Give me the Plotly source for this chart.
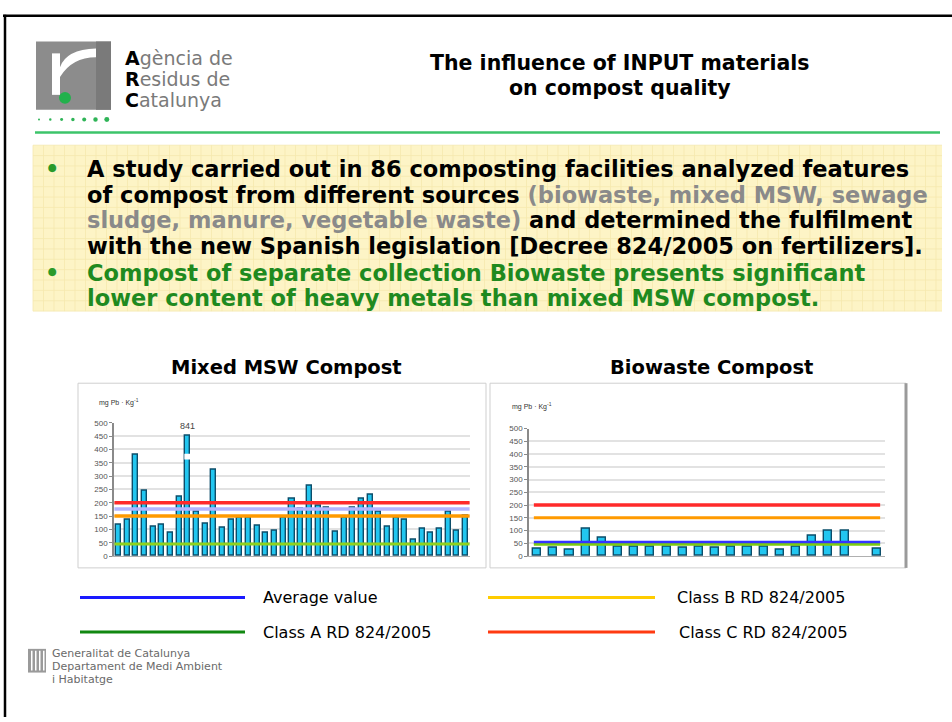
import plotly.graph_objects as go

# ---------------- DATA ----------------
msw_values = [117, 138, 379, 246, 111, 116, 89, 224, 841, 167, 121, 324, 108, 135,
              145, 145, 112, 86, 94, 145, 215, 176, 264, 188, 180, 92, 145, 180,
              215, 230, 166, 111, 145, 138, 60, 103, 86, 103, 166, 94, 150]
bio_values = [30, 33, 26, 107, 72, 36, 36, 36, 36, 32, 36, 32, 36, 37, 36, 26, 35,
              82, 98, 98, None, 30]
msw_average = 176
bio_average = 53
class_a = 45
class_b = 150
class_c = 200
y_ticks = [0, 50, 100, 150, 200, 250, 300, 350, 400, 450, 500]
break_label = "841"
chart_titles = ["Mixed MSW Compost", "Biowaste Compost"]
legend_labels = ["Average value", "Class B RD 824/2005", "Class A RD 824/2005", "Class C RD 824/2005"]

W, H = 952, 722
def px(x): return x / W
def py(y): return 1 - y / H

CAP = 452  # display height of the broken bar

fig = go.Figure()

msw_x = list(range(len(msw_values)))
bio_x = list(range(len(bio_values)))
msw_disp = [min(v, CAP) for v in msw_values]

bar_fill = "#22c6f0"
bar_edge = "#0c4d6a"
fig.add_trace(go.Bar(x=msw_x, y=msw_disp, width=0.58, marker=dict(color=bar_fill, line=dict(color=bar_edge, width=1.4)),
                     xaxis="x", yaxis="y", showlegend=False))
fig.add_trace(go.Bar(x=bio_x, y=bio_values, width=0.5, marker=dict(color=bar_fill, line=dict(color=bar_edge, width=1.4)),
                     xaxis="x2", yaxis="y2", showlegend=False))

def hline(xa, ya, x0, x1, yv, color, w):
    fig.add_trace(go.Scatter(x=[x0, x1], y=[yv, yv], mode="lines", line=dict(color=color, width=w),
                             xaxis=xa, yaxis=ya, showlegend=False, hoverinfo="skip"))

n1 = len(msw_values) - 1
hline("x", "y", -0.45, n1 + 0.45, class_c, "#ff2a2a", 3.5)
hline("x", "y", -0.45, n1 + 0.45, msw_average, "#b4b4ff", 3.5)
hline("x", "y", -0.45, n1 + 0.45, class_b, "#ff9a00", 3.5)
hline("x", "y", -0.45, n1 + 0.45, class_a, "#8fd21e", 3)

n2 = len(bio_values) - 1
hline("x2", "y2", -0.2, n2 + 0.2, class_c, "#ff2a2a", 3.5)
hline("x2", "y2", -0.2, n2 + 0.2, class_b, "#ff9a00", 3)
hline("x2", "y2", -0.2, n2 + 0.2, bio_average, "#3434ff", 3.5)
hline("x2", "y2", -0.2, n2 + 0.2, class_a, "#7ccc10", 2.5)

shapes = []
annotations = []

# broken bar gap
bi = msw_values.index(max(msw_values))
shapes.append(dict(type="rect", xref="x", yref="y", x0=bi - 0.4, x1=bi + 0.4, y0=362, y1=384,
                   fillcolor="white", line=dict(width=0), layer="above"))
annotations.append(dict(x=bi, y=CAP + 8, xref="x", yref="y", text=break_label, showarrow=False,
                        yanchor="bottom", font=dict(size=9, color="#444", family="Liberation Sans")))

axis_common = dict(showgrid=False, zeroline=False, showticklabels=False, showline=True,
                   linecolor="#b0b0b0", linewidth=1, fixedrange=True)
yaxis_common = dict(range=[0, 500], tickvals=y_ticks, showgrid=True, gridcolor="#e2e2e2", gridwidth=2,
                    zeroline=False, showline=True, linecolor="#8a8a8a", linewidth=1.5,
                    ticks="outside", ticklen=3, tickcolor="#8a8a8a",
                    tickfont=dict(size=8, color="#555", family="Liberation Sans"), fixedrange=True)

fig.update_layout(
    width=W, height=H, margin=dict(l=0, r=0, t=0, b=0),
    paper_bgcolor="white", plot_bgcolor="white", barmode="overlay", bargap=0,
    xaxis=dict(domain=[px(114), px(470)], range=[-0.5, len(msw_values) - 0.5], anchor="y", **axis_common),
    yaxis=dict(domain=[py(559), py(424)], anchor="x", **yaxis_common),
    xaxis2=dict(domain=[px(529), px(885)], range=[-0.5, len(bio_values) - 0.5], anchor="y2", **axis_common),
    yaxis2=dict(domain=[py(559), py(430)], anchor="x2", **yaxis_common),
)

DJ = "DejaVu Sans"

def text(x, y, s, size, color="#000", bold=False, anchor="left", family=DJ):
    if bold:
        s = "<b>" + s + "</b>"
    annotations.append(dict(x=px(x), y=py(y), xref="paper", yref="paper", text=s, showarrow=False,
                            xanchor=anchor, yanchor="middle", font=dict(size=size, color=color, family=family)))

def line(x0, y0, x1, y1, color, w):
    shapes.append(dict(type="line", xref="paper", yref="paper", x0=px(x0), y0=py(y0), x1=px(x1), y1=py(y1),
                       line=dict(color=color, width=w)))

def rect(x0, y0, x1, y1, fill, lc=None, lw=0, layer="below"):
    shapes.append(dict(type="rect", xref="paper", yref="paper", x0=px(x0), y0=py(y0), x1=px(x1), y1=py(y1),
                       fillcolor=fill, line=dict(color=lc or fill, width=lw), layer=layer))

# slide frame
line(3, 12, 952, 12, "#000", 2.5)
line(5, 11, 5, 722, "#000", 2.5)

# logo
rect(36, 38, 111, 107, "#8c8c8c", layer="above")
rect(96, 38, 111, 107, "#7a7a7a", layer="above")
rect(52, 50, 60, 92, "white", layer="above")
shapes.append(dict(type="path", xref="paper", yref="paper",
                   path=f"M {px(60)} {py(64)} Q {px(66)} {py(46)} {px(96)} {py(45)} L {px(96)} {py(54)} Q {px(72)} {py(54)} {px(60)} {py(74)} Z",
                   fillcolor="white", line=dict(width=0), layer="above"))
shapes.append(dict(type="circle", xref="paper", yref="paper", x0=px(59), y0=py(101), x1=px(71), y1=py(89),
                   fillcolor="#22b14c", line=dict(width=0), layer="above"))
for i in range(7):
    r = 1.0 + 0.25 * i
    cx = 39 + 11.3 * i
    shapes.append(dict(type="circle", xref="paper", yref="paper", x0=px(cx - r), y0=py(117 + r), x1=px(cx + r), y1=py(117 - r),
                       fillcolor="#2fb457", line=dict(width=0)))
text(123, 55, "<span style='color:#000'><b>A</b></span>gència de", 19, "#7a7a7a")
text(123, 76, "<span style='color:#000'><b>R</b></span>esidus de", 19, "#7a7a7a")
text(123, 97, "<span style='color:#000'><b>C</b></span>atalunya", 19, "#7a7a7a")
line(35, 130, 940, 130, "#3cc46a", 2.5)

# title
text(620, 60, "The influence of INPUT materials", 20.5, bold=True, anchor="center")
text(620, 85, "on compost quality", 20.5, bold=True, anchor="center")

# yellow grid box
rect(33, 143, 942, 311, "#fdf4c6")
gx = 33
while gx <= 942:
    line(gx, 143, gx, 311, "#f5e8ae", 0.8)
    gx += 10.5
gy = 143
while gy <= 311:
    line(33, gy, 942, gy, "#f5e8ae", 0.8)
    gy += 10.5

gray = "#8a8a8a"
green = "#1f8a1f"
BS = 22.5
text(43, 167, "•", BS, "#2a9a2a", bold=True)
text(43, 272, "•", BS, "#2a9a2a", bold=True)
text(85, 167, "A study carried out in 86 composting facilities analyzed features", BS, bold=True)
text(85, 193, "of compost from different sources <span style='color:%s'>(biowaste, mixed MSW, sewage</span>" % gray, BS, bold=True)
text(85, 219, "<span style='color:%s'>sludge, manure, vegetable waste)</span> and determined the fulfilment" % gray, BS, bold=True)
text(85, 245, "with the new Spanish legislation [Decree 824/2005 on fertilizers].", BS, bold=True)
text(85, 272, "Compost of separate collection Biowaste presents significant", BS, green, bold=True)
text(85, 298, "lower content of heavy metals than mixed MSW compost.", BS, green, bold=True)

# chart titles
text(286, 368, chart_titles[0], 19.5, bold=True, anchor="center")
text(711, 368, chart_titles[1], 19.5, bold=True, anchor="center")

# chart panels
rect(78, 384, 486, 571, "rgba(0,0,0,0)", "#cfcfcf", 1)
rect(490, 384, 906, 571, "rgba(0,0,0,0)", "#cfcfcf", 1)
line(906, 384, 906, 571, "#9a9a9a", 3)
text(97, 404, "mg Pb · Kg<sup>-1</sup>", 7, "#333", family="Liberation Sans")
text(510, 408, "mg Pb · Kg<sup>-1</sup>", 7, "#333", family="Liberation Sans")

# legend
line(80, 601, 245, 601, "#1a1aff", 3)
line(488, 601, 655, 601, "#ffcc00", 3)
line(80, 636, 245, 636, "#118811", 3)
line(488, 636, 655, 636, "#ff3a11", 3)
LS = 16
text(261, 601, legend_labels[0], LS)
text(675, 601, legend_labels[1], LS)
text(261, 636, legend_labels[2], LS)
text(677, 636, legend_labels[3], LS)

# footer
rect(28, 653, 46, 677, "#9a9a9a", layer="above")
for k in range(4):
    rect(31 + k * 4, 655, 32.5 + k * 4, 675, "white", layer="above")
text(50, 658, "Generalitat de Catalunya", 11, "#6a6a6a")
text(50, 671, "Departament de Medi Ambient", 11, "#6a6a6a")
text(50, 684, "i Habitatge", 11, "#6a6a6a")

fig.update_layout(shapes=shapes, annotations=annotations)
fig.write_html("out.html", config={"displayModeBar": False},
               post_script="document.body.style.margin='0';document.body.style.overflow='hidden';")
